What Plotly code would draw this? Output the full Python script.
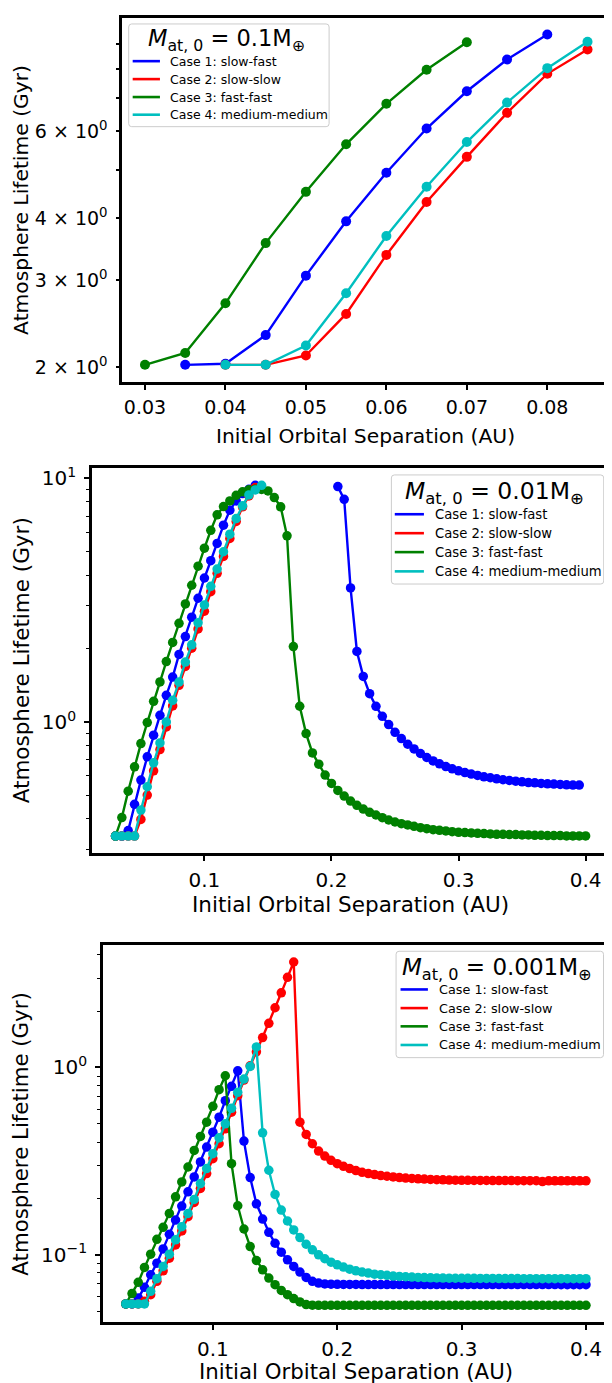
import plotly.graph_objects as go

# ---------------- data ----------------
SEP = [0.030, 0.035, 0.040, 0.045, 0.050, 0.055, 0.060, 0.065, 0.070, 0.075,
       0.080, 0.085, 0.090, 0.095, 0.100, 0.105, 0.110, 0.115, 0.120, 0.125,
       0.130, 0.135, 0.140, 0.145, 0.150, 0.155, 0.160, 0.165, 0.170, 0.175,
       0.180, 0.185, 0.190, 0.195, 0.200, 0.205, 0.210, 0.215, 0.220, 0.225,
       0.230, 0.235, 0.240, 0.245, 0.250, 0.255, 0.260, 0.265, 0.270, 0.275,
       0.280, 0.285, 0.290, 0.295, 0.300, 0.305, 0.310, 0.315, 0.320, 0.325,
       0.330, 0.335, 0.340, 0.345, 0.350, 0.355, 0.360, 0.365, 0.370, 0.375,
       0.380, 0.385, 0.390, 0.395, 0.400]

CASE_NAMES = ["Case 1: slow-fast", "Case 2: slow-slow", "Case 3: fast-fast", "Case 4: medium-medium"]
CASE_COLORS = ["#0000ff", "#ff0000", "#008000", "#00bfbf"]

# Panel 1: M_at,0 = 0.1 M_earth
p1_case1_x = [0.035, 0.040, 0.045, 0.050, 0.055, 0.060, 0.065, 0.070, 0.075, 0.080]
p1_case1 = [2.02, 2.03, 2.32, 3.06, 3.94, 4.94, 6.07, 7.22, 8.37, 9.40]
p1_case2_x = [0.040, 0.045, 0.050, 0.055, 0.060, 0.065, 0.070, 0.075, 0.080, 0.085]
p1_case2 = [2.02, 2.02, 2.11, 2.56, 3.37, 4.31, 5.32, 6.53, 7.83, 8.77]
p1_case3_x = [0.030, 0.035, 0.040, 0.045, 0.050, 0.055, 0.060, 0.065, 0.070]
p1_case3 = [2.02, 2.135, 2.69, 3.56, 4.52, 5.64, 6.81, 7.98, 9.07]
p1_case4_x = [0.040, 0.045, 0.050, 0.055, 0.060, 0.065, 0.070, 0.075, 0.080, 0.085]
p1_case4 = [2.02, 2.02, 2.21, 2.82, 3.68, 4.63, 5.70, 6.85, 8.04, 9.09]

# Panel 2: M_at,0 = 0.01 M_earth  (x = SEP from 0.030)
p2_case1 = [0.340, 0.340, 0.358, 0.459, 0.577, 0.719, 0.882, 1.065, 1.286, 1.528,
            1.892, 2.242, 2.691, 3.219, 3.898, 4.590, 5.404, 6.424, 7.398, 8.08,
            8.66, 9.02, 9.36,
            None, None, None, None, None, None, None, None, None, None, None, None,
            9.25, 8.20, 3.55, 1.947, 1.538, 1.306, 1.159, 1.055, 0.975, 0.907,
            0.855, 0.810, 0.775, 0.742, 0.7145, 0.692, 0.673, 0.656, 0.642, 0.630,
            0.620, 0.611, 0.603, 0.595, 0.590, 0.584, 0.579, 0.575, 0.5715, 0.568,
            0.564, 0.5626, 0.559, 0.557, 0.5556, 0.554, 0.552, 0.5504, 0.5504]
p2_case2 = [0.340, 0.340, 0.340, 0.340, 0.398, 0.501, 0.630, 0.770, 0.954, 1.163,
            1.413, 1.690, 2.009, 2.410, 2.847, 3.427, 4.073, 4.78, 5.665, 6.65,
            7.64, 8.47, 9.16]
p2_case3 = [0.340, 0.405, 0.520, 0.654, 0.815, 0.994, 1.215, 1.46, 1.77, 2.12,
            2.54, 3.05, 3.64, 4.36, 5.17, 6.12, 7.08, 7.66, 8.08, 8.52,
            8.80, 8.97, 9.02, 9.00, 8.88, 8.34, 7.64, 5.81, 2.04, 1.16,
            0.896, 0.746, 0.671, 0.605, 0.559, 0.5235,
            0.4963, 0.4735, 0.4545, 0.4390, 0.4254, 0.4149, 0.4046, 0.3958, 0.3884, 0.3824,
            0.3776, 0.3729, 0.3682, 0.3648, 0.3613, 0.3591, 0.3568, 0.3546, 0.3524, 0.3513,
            0.3502, 0.3490, 0.3480, 0.3469, 0.3458, 0.3458, 0.3447, 0.3447, 0.3436, 0.3436,
            0.3425, 0.3425, 0.3415, 0.3415, 0.3415, 0.3404, 0.3404, 0.3404, 0.3404]
p2_case4 = [0.340, 0.340, 0.340, 0.340, 0.4348, 0.5419, 0.6796, 0.8204, 1.000, 1.227,
            1.458, 1.761, 2.073, 2.551, 3.021, 3.604, 4.243, 4.996, 5.90, 6.84,
            7.71, 8.55, 8.96, 9.36]

# Panel 3: M_at,0 = 0.001 M_earth  (x = SEP from 0.030)
p3_case1 = [0.0547, 0.0547, 0.0589, 0.0671, 0.0783, 0.0903, 0.1076, 0.1288, 0.1534, 0.1821,
            0.2170, 0.2606, 0.3131, 0.3760, 0.4518, 0.5428, 0.6654, 0.7930, 0.9605,
            0.4046, 0.2585, 0.1873, 0.1553, 0.1319, 0.1153, 0.1033, 0.0941, 0.0867, 0.0809,
            0.0758, 0.0722, 0.0707,
            0.0699, 0.0697, 0.0696, 0.0695, 0.0695, 0.0695, 0.0694, 0.0694, 0.0694, 0.0694,
            0.0694, 0.0694, 0.0694, 0.0694, 0.0694, 0.0694, 0.0694, 0.0694, 0.0694, 0.0694,
            0.0694, 0.0694, 0.0694, 0.0694, 0.0694, 0.0694, 0.0694, 0.0694, 0.0694, 0.0694,
            0.0694, 0.0694, 0.0694, 0.0694, 0.0694, 0.0694, 0.0694, 0.0694, 0.0693, 0.0693,
            0.0693, 0.0693, 0.0693]
p3_case2 = [0.0547, 0.0547, 0.0547, 0.0565, 0.0613, 0.0722, 0.0822, 0.0960, 0.1130, 0.1341,
            0.1598, 0.1904, 0.2260, 0.2715, 0.3262, 0.3917, 0.4708, 0.5771, 0.7076, 0.8567,
            1.021, 1.212, 1.444, 1.720, 2.084, 2.503, 3.031, 3.657,
            0.5105, 0.4391, 0.3917, 0.3581, 0.3369, 0.3195, 0.3067, 0.2969, 0.2886, 0.2816,
            0.2759, 0.2715, 0.2682, 0.2649, 0.2627, 0.2606, 0.2585,
            0.2570, 0.2558, 0.2547, 0.2537, 0.2528, 0.2520, 0.2513, 0.2507, 0.2502, 0.2500,
            0.2498, 0.2496, 0.2495, 0.2494, 0.2493, 0.2492, 0.2491, 0.2490, 0.2489, 0.2488,
            0.2487, 0.2486, 0.2462, 0.2484, 0.2485, 0.2484, 0.2484, 0.2483, 0.2483, 0.2483]
p3_case3 = [0.0547, 0.0621, 0.0713, 0.0857, 0.1008, 0.1211, 0.1402, 0.1664, 0.2041, 0.2451,
            0.2944, 0.3610, 0.4285, 0.5105, 0.6209, 0.7612, 0.9034,
            0.3067, 0.1828, 0.1374, 0.1107, 0.0933, 0.0832, 0.0752, 0.0693, 0.0646, 0.0613,
            0.0584, 0.0561, 0.0543,
            0.0539, 0.0538, 0.0538, 0.0538, 0.0538, 0.0538, 0.0538, 0.0538, 0.0538, 0.0538,
            0.0538, 0.0538, 0.0538, 0.0538, 0.0538, 0.0538, 0.0538, 0.0538, 0.0538, 0.0538,
            0.0538, 0.0538, 0.0538, 0.0538, 0.0538, 0.0538, 0.0538, 0.0538, 0.0538, 0.0538,
            0.0538, 0.0538, 0.0538, 0.0538, 0.0538, 0.0538, 0.0538, 0.0538, 0.0538, 0.0538,
            0.0538, 0.0538, 0.0538, 0.0538, 0.0538]
p3_case4 = [0.0547, 0.0547, 0.0547, 0.0547, 0.0639, 0.0746, 0.0867, 0.1008, 0.1202, 0.1414,
            0.1664, 0.1975, 0.2402, 0.2886, 0.3467, 0.4215, 0.5003, 0.6058, 0.7368, 0.8673,
            1.0127, 1.288,
            0.4480, 0.2828, 0.2100, 0.1734, 0.1516, 0.1358, 0.1237, 0.1139, 0.1063, 0.1000,
            0.0953, 0.0914, 0.0885, 0.0860, 0.0839, 0.0822, 0.0809, 0.0799, 0.0789, 0.0783,
            0.0777, 0.0770, 0.0767, 0.0764, 0.0761, 0.0758,
            0.0756, 0.0754, 0.0753, 0.0752, 0.0751, 0.0750, 0.0750, 0.0749, 0.0749, 0.0748,
            0.0748, 0.0748, 0.0747, 0.0747, 0.0747, 0.0747, 0.0746, 0.0746, 0.0746, 0.0746,
            0.0746, 0.0746, 0.0746, 0.0746, 0.0746, 0.0746, 0.0746]

LEGEND_TITLES = ["<i>M</i><sub>at, 0</sub> = 0.1M<sub>⊕</sub>",
                 "<i>M</i><sub>at, 0</sub> = 0.01M<sub>⊕</sub>",
                 "<i>M</i><sub>at, 0</sub> = 0.001M<sub>⊕</sub>"]

X_LABEL = "Initial Orbital Separation (AU)"
Y_LABEL = "Atmosphere Lifetime (Gyr)"

# ---------------- figure ----------------
# the page body has an 8px default margin, so the figure is drawn 8px smaller
OFF = 8
PAGE_W, PAGE_H = 612, 1383
W, H = PAGE_W - OFF, PAGE_H - OFF
FONT = "DejaVu Sans"
fig = go.Figure()

panels = [
    ("x", "y", [(p1_case1_x, p1_case1), (p1_case2_x, p1_case2), (p1_case3_x, p1_case3), (p1_case4_x, p1_case4)], 10),
    ("x2", "y2", [(SEP[:len(p2_case1)], p2_case1), (SEP[:len(p2_case2)], p2_case2),
                  (SEP[:len(p2_case3)], p2_case3), (SEP[:len(p2_case4)], p2_case4)], 9.5),
    ("x3", "y3", [(SEP[:len(p3_case1)], p3_case1), (SEP[:len(p3_case2)], p3_case2),
                  (SEP[:len(p3_case3)], p3_case3), (SEP[:len(p3_case4)], p3_case4)], 9.5),
]

for xa, ya, series, msize in panels:
    for (xs, ys), col, name in zip(series, CASE_COLORS, CASE_NAMES):
        fig.add_trace(go.Scatter(x=xs, y=ys, mode="lines+markers", xaxis=xa, yaxis=ya, name=name,
                                 line=dict(color=col, width=2.4),
                                 marker=dict(color=col, size=msize, line=dict(width=0)),
                                 connectgaps=False, showlegend=False, hoverinfo="skip"))

def px_x(p):
    return (p - OFF) / W

def px_y(p):
    return 1 - (p - OFF) / H

axis_common = dict(showgrid=False, zeroline=False, showline=True, linecolor="black",
                   linewidth=2.5, ticks="outside", tickcolor="black", tickwidth=1.5, mirror=True)

layout = dict(width=W, height=H, margin=dict(l=0, r=0, t=0, b=0), showlegend=False,
              plot_bgcolor="white", paper_bgcolor="white",
              font=dict(family=FONT, color="black"))

# panel 1
layout["xaxis"] = dict(axis_common, domain=[px_x(122.7), 1.0], anchor="y",
                       range=[0.02716, 0.08767], tickmode="array",
                       tickvals=[0.03, 0.04, 0.05, 0.06, 0.07, 0.08],
                       ticktext=["0.03", "0.04", "0.05", "0.06", "0.07", "0.08"],
                       ticklen=5, ticklabelstandoff=2,
                       tickfont=dict(family=FONT, color="black", size=19))
layout["yaxis"] = dict(axis_common, domain=[px_y(379), px_y(14)], anchor="x", type="log",
                       range=[0.2708, 1.0067], tickmode="array",
                       tickvals=[2, 3, 4, 6],
                       ticktext=["2 × 10<sup>0</sup>", "3 × 10<sup>0</sup>", "4 × 10<sup>0</sup>",
                                 "6 × 10<sup>0</sup>"],
                       ticklen=3, ticklabelstandoff=5,
                       tickfont=dict(family=FONT, color="black", size=19),
                       minor=dict(tickmode="array", tickvals=[5, 7, 8, 9], ticks="outside",
                                  ticklen=3, tickcolor="black", tickwidth=1.5))
# panel 2
layout["xaxis2"] = dict(axis_common, domain=[px_x(92.4), 1.0], anchor="y2",
                        range=[0.0115, 0.4184], tickmode="array",
                        tickvals=[0.1, 0.2, 0.3, 0.4], ticktext=["0.1", "0.2", "0.3", "0.4"],
                        ticklen=5, ticklabelstandoff=2,
                        tickfont=dict(family=FONT, color="black", size=20))
layout["yaxis2"] = dict(axis_common, domain=[px_y(851.7), px_y(465)], anchor="x2", type="log",
                        range=[-0.539, 1.0438], tickmode="array",
                        tickvals=[1, 10], ticktext=["10<sup>0</sup>", "10<sup>1</sup>"],
                        ticklen=5, ticklabelstandoff=4,
                        tickfont=dict(family=FONT, color="black", size=20),
                        minor=dict(tickmode="array",
                                   tickvals=[0.3, 0.4, 0.5, 0.6, 0.7, 0.8, 0.9, 2, 3, 4, 5, 6, 7, 8, 9],
                                   ticks="outside", ticklen=3, tickcolor="black", tickwidth=1.2))
# panel 3
layout["xaxis3"] = dict(axis_common, domain=[px_x(103.4), 1.0], anchor="y3",
                        range=[0.0116, 0.4185], tickmode="array",
                        tickvals=[0.1, 0.2, 0.3, 0.4], ticktext=["0.1", "0.2", "0.3", "0.4"],
                        ticklen=5, ticklabelstandoff=2,
                        tickfont=dict(family=FONT, color="black", size=20))
layout["yaxis3"] = dict(axis_common, domain=[px_y(1322.3), px_y(943.5)], anchor="x3", type="log",
                        range=[-1.361, 0.655], tickmode="array",
                        tickvals=[0.1, 1], ticktext=["10<sup>−1</sup>", "10<sup>0</sup>"],
                        ticklen=5, ticklabelstandoff=4,
                        tickfont=dict(family=FONT, color="black", size=20),
                        minor=dict(tickmode="array",
                                   tickvals=[0.05, 0.06, 0.07, 0.08, 0.09, 0.2, 0.3, 0.4, 0.5, 0.6,
                                             0.7, 0.8, 0.9, 2, 3, 4],
                                   ticks="outside", ticklen=3, tickcolor="black", tickwidth=1.2))

ann = []
shapes = []

def label(x, y, text, size, angle=0, xanchor="center", yanchor="middle"):
    ann.append(dict(x=px_x(x), y=px_y(y), xref="paper", yref="paper", text=text,
                    showarrow=False, textangle=angle, xanchor=xanchor, yanchor=yanchor,
                    font=dict(family=FONT, size=size, color="black")))

def rounded_box(x0, y0, x1, y1, r=3):
    rx, ry = r / W, r / H
    X0, X1 = px_x(x0), px_x(x1)
    Y0, Y1 = px_y(y0), px_y(y1)  # Y0 top, Y1 bottom
    path = (f"M {X0 + rx},{Y0} L {X1 - rx},{Y0} Q {X1},{Y0} {X1},{Y0 - ry} "
            f"L {X1},{Y1 + ry} Q {X1},{Y1} {X1 - rx},{Y1} "
            f"L {X0 + rx},{Y1} Q {X0},{Y1} {X0},{Y1 + ry} "
            f"L {X0},{Y0 - ry} Q {X0},{Y0} {X0 + rx},{Y0} Z")
    shapes.append(dict(type="path", path=path, xref="paper", yref="paper", layer="above",
                       line=dict(color="#cccccc", width=1), fillcolor="rgba(255,255,255,0.8)"))

def legend(box, title, title_xy, title_size, line_x, text_x, rows, size):
    rounded_box(*box)
    label(title_xy[0], title_xy[1], title, title_size)
    for name, col, ry in zip(CASE_NAMES, CASE_COLORS, rows):
        shapes.append(dict(type="line", xref="paper", yref="paper", layer="above",
                           x0=px_x(line_x[0]), x1=px_x(line_x[1]), y0=px_y(ry), y1=px_y(ry),
                           line=dict(color=col, width=2.6)))
        label(text_x, ry, name, size, xanchor="left")

legend((129.3, 20, 330.7, 123), LEGEND_TITLES[0], (228, 36), 22.5,
       (133.3, 160.7), 168.5, [57.3, 75.3, 93.3, 111.0], 12.5)
legend((393.3, 472.3, 606.7, 581.7), LEGEND_TITLES[1], (497, 490), 23.5,
       (396.7, 426.0), 435.0, [511.7, 530.7, 549.7, 569.0], 13.2)
legend((398.0, 950.0, 606.5, 1056.7), LEGEND_TITLES[2], (499, 968), 23,
       (402.5, 430.0), 439.5, [988.3, 1007.0, 1025.3, 1044.0], 12.8)

label(367.5, 433.3, X_LABEL, 20.3)
label(21, 196.5, Y_LABEL, 20.3, -90)
label(352.2, 903, X_LABEL, 21.5)
label(21, 658.3, Y_LABEL, 21.5, -90)
label(357.7, 1371.0, X_LABEL, 21.3)
label(21, 1133, Y_LABEL, 21.3, -90)

layout["annotations"] = ann
layout["shapes"] = shapes

fig.update_layout(**layout)
fig.write_html("out.html")
